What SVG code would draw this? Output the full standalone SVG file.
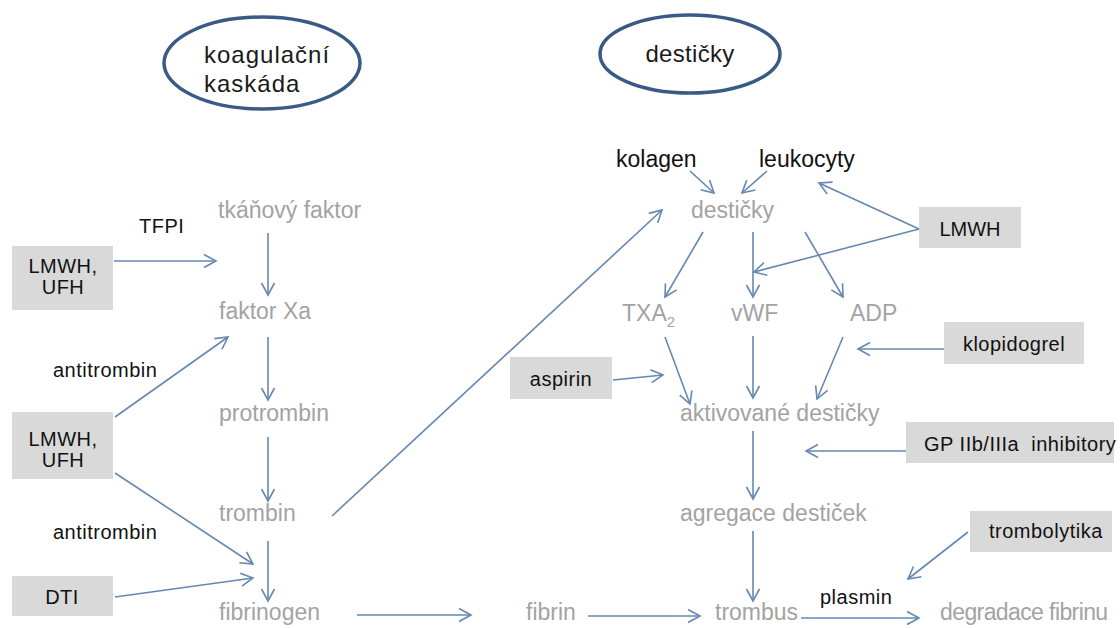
<svg xmlns="http://www.w3.org/2000/svg" width="1120" height="628" viewBox="0 0 1120 628">
<defs>
<marker id="ah" markerUnits="userSpaceOnUse" markerWidth="16" markerHeight="16" viewBox="0 0 16 16" refX="14" refY="8" orient="auto">
<path d="M2,1.5 L14,8 L2,14.5" fill="none" stroke="#6688b0" stroke-width="1.6"/>
</marker>
</defs>
<style>
.g{font-family:"Liberation Sans",Arial,sans-serif;font-size:23px;fill:#a3a3a3}
.k{font-family:"Liberation Sans",Arial,sans-serif;font-size:20px;fill:#111;letter-spacing:0.5px}
.kl{font-family:"Liberation Sans",Arial,sans-serif;font-size:23px;fill:#111}
.t{font-family:"Liberation Sans",Arial,sans-serif;font-size:24px;fill:#1a1a1a}
.box{fill:#d9d9d9}
.ell{fill:#fff;stroke:#3a5a86;stroke-width:3.5}
.c line{stroke:#6688b0;stroke-width:1.6;fill:none;marker-end:url(#ah)}
</style>
<rect width="1120" height="628" fill="#fff"/>

<g id="title-koag">
<ellipse class="ell" cx="262" cy="63" rx="98" ry="46"/>
<text class="t" x="204" y="63" style="letter-spacing:1px">koagulační</text>
<text class="t" x="204" y="92" style="letter-spacing:1px">kaskáda</text>
</g>
<g id="title-dest">
<ellipse class="ell" cx="690" cy="54" rx="90" ry="39"/>
<text class="t" x="690" y="62" text-anchor="middle" style="letter-spacing:0.3px">destičky</text>
</g>

<g id="n-tkanovy"><text class="g" x="218" y="218">tkáňový faktor</text></g>
<g id="n-faktorXa"><text class="g" x="219" y="319">faktor Xa</text></g>
<g id="n-protrombin"><text class="g" x="219" y="421">protrombin</text></g>
<g id="n-trombin"><text class="g" x="219" y="521">trombin</text></g>
<g id="n-fibrinogen"><text class="g" x="219" y="620">fibrinogen</text></g>
<g id="n-fibrin"><text class="g" x="526" y="620">fibrin</text></g>
<g id="n-trombus"><text class="g" x="715" y="620">trombus</text></g>
<g id="n-degradace"><text class="g" x="940" y="620" style="letter-spacing:-0.6px">degradace fibrinu</text></g>
<g id="n-desticky"><text class="g" x="691" y="218">destičky</text></g>
<g id="n-txa2"><text class="g" x="622" y="321">TXA<tspan font-size="15" dy="6">2</tspan></text></g>
<g id="n-vwf"><text class="g" x="731" y="321">vWF</text></g>
<g id="n-adp"><text class="g" x="850" y="321">ADP</text></g>
<g id="n-aktivovane"><text class="g" x="680" y="421">aktivované destičky</text></g>
<g id="n-agregace"><text class="g" x="680" y="521">agregace destiček</text></g>

<g id="n-kolagen"><text class="kl" x="616" y="167">kolagen</text></g>
<g id="n-leukocyty"><text class="kl" x="759" y="167">leukocyty</text></g>

<g id="b-lmwh-ufh-1"><rect class="box" x="12" y="246" width="101" height="64"/>
<text class="k" x="63" y="273" text-anchor="middle">LMWH,</text>
<text class="k" x="63" y="294" text-anchor="middle">UFH</text></g>
<g id="b-lmwh-ufh-2"><rect class="box" x="12" y="412" width="101" height="67"/>
<text class="k" x="63" y="446" text-anchor="middle">LMWH,</text>
<text class="k" x="63" y="467" text-anchor="middle">UFH</text></g>
<g id="b-dti"><rect class="box" x="12" y="576" width="101" height="40"/>
<text class="k" x="62" y="604" text-anchor="middle">DTI</text></g>
<g id="b-aspirin"><rect class="box" x="510" y="357" width="102" height="42"/>
<text class="k" x="561" y="386" text-anchor="middle">aspirin</text></g>
<g id="b-lmwh"><rect class="box" x="919" y="207" width="102" height="41"/>
<text class="k" x="970" y="236" text-anchor="middle" style="letter-spacing:0">LMWH</text></g>
<g id="b-klopidogrel"><rect class="box" x="944" y="322" width="140" height="42"/>
<text class="k" x="1014" y="351" text-anchor="middle">klopidogrel</text></g>
<g id="b-gp"><rect class="box" x="906" y="422" width="208" height="41"/>
<text class="k" x="924" y="451" xml:space="preserve">GP IIb/IIIa  inhibitory</text></g>
<g id="b-trombolytika"><rect class="box" x="970" y="511" width="142" height="41"/>
<text class="k" x="989" y="538">trombolytika</text></g>

<g id="labels">
<text class="k" x="139" y="233">TFPI</text>
<text class="k" x="53" y="377">antitrombin</text>
<text class="k" x="53" y="539">antitrombin</text>
<text class="k" x="820" y="604">plasmin</text>
</g>

<g id="connectors" class="c">
<line x1="268" y1="233" x2="268" y2="295"/>
<line x1="268" y1="337" x2="268" y2="400"/>
<line x1="268" y1="437" x2="268" y2="501"/>
<line x1="268" y1="541" x2="268" y2="601"/>
<line x1="114" y1="261" x2="216" y2="261"/>
<line x1="115" y1="417" x2="228" y2="337"/>
<line x1="115" y1="473" x2="253" y2="564"/>
<line x1="115" y1="597" x2="253" y2="578"/>
<line x1="357" y1="615" x2="471" y2="615"/>
<line x1="332" y1="516" x2="662" y2="210"/>
<line x1="690" y1="171" x2="714" y2="193"/>
<line x1="767" y1="171" x2="742" y2="193"/>
<line x1="919" y1="229" x2="819" y2="183"/>
<line x1="919" y1="229" x2="754" y2="272"/>
<line x1="703" y1="232" x2="665" y2="297"/>
<line x1="753" y1="232" x2="753" y2="297"/>
<line x1="805" y1="232" x2="843" y2="297"/>
<line x1="665" y1="337" x2="690" y2="404"/>
<line x1="753" y1="336" x2="753" y2="398"/>
<line x1="843" y1="337" x2="817" y2="399"/>
<line x1="613" y1="380" x2="663" y2="375"/>
<line x1="944" y1="349" x2="858" y2="349"/>
<line x1="906" y1="451" x2="806" y2="451"/>
<line x1="753" y1="431" x2="753" y2="499"/>
<line x1="753" y1="531" x2="753" y2="601"/>
<line x1="968" y1="532" x2="908" y2="579"/>
<line x1="588" y1="616" x2="700" y2="616"/>
<line x1="801" y1="618" x2="919" y2="618"/>
</g>
</svg>
